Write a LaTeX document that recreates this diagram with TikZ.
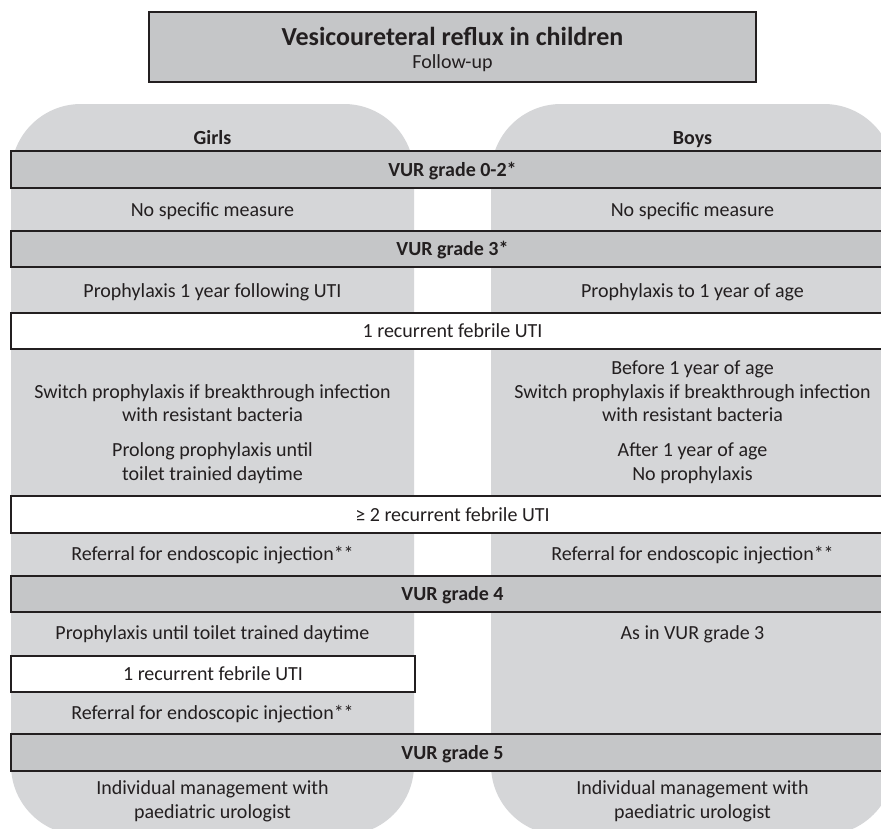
\documentclass[tikz,border=0pt]{standalone}
\usepackage{fontspec}
\setmainfont{Carlito}
\definecolor{ink}{RGB}{35,31,32}
\definecolor{panel}{RGB}{213,214,216}
\definecolor{barfill}{RGB}{197,198,200}
\begin{document}
\begin{tikzpicture}[x=1pt,y=-1pt,
  txt/.style={anchor=base, inner sep=0pt, text=ink, font=\fontsize{20}{24}\selectfont},
  btxt/.style={anchor=base, inner sep=0pt, text=ink, font=\fontsize{20}{24}\selectfont\bfseries},
  rowbox/.style={draw=ink, line width=1.8pt, inner sep=0pt, text=ink,
    text height=17pt, text depth=4pt, minimum height=36.5pt,
    font=\fontsize{20}{24}\selectfont},
  gradebar/.style={rowbox, fill=barfill, font=\fontsize{20}{24}\selectfont\bfseries},
  whitebar/.style={rowbox, fill=white},
  panelshape/.style={fill=panel, rounded corners=70pt}]
\useasboundingbox (0,0) rectangle (881,828);
\clip (0,0) rectangle (881,828);
\fill[white] (0,0) rectangle (881,828);
% panels
\fill[panelshape] (11,104) rectangle (414,835);
\fill[panelshape] (491,104) rectangle (894,835);
% title
\node[draw=ink, line width=1.5pt, fill=barfill, minimum width=607pt, minimum height=70pt, inner sep=0pt] (titlebox) at (452.5,47) {};
\node[btxt, font=\fontsize{26}{30}\selectfont\bfseries] (title) at (452.5,45) {Vesicoureteral reflux in children};
\node[txt] (followup) at (452.5,68.5) {Follow-up};
% headers
\node[btxt] (girls) at (212.5,144) {Girls};
\node[btxt] (boys) at (692.5,144) {Boys};
% grade 0-2
\node[gradebar, minimum width=883pt] (bar02) at (452.5,169.5) {VUR grade 0-2*};
\node[txt] (g02) at (212.5,216) {No specific measure};
\node[txt] (b02) at (692.5,216) {No specific measure};
% grade 3
\node[gradebar, minimum width=883pt] (bar3) at (452.5,249) {VUR grade 3*};
\node[txt] (g3a) at (212.5,297) {Prophylaxis 1 year following UTI};
\node[txt] (b3a) at (692.5,297) {Prophylaxis to 1 year of age};
\node[whitebar, minimum width=883pt] (uti1) at (452.5,331) {1 recurrent febrile UTI};
\node[txt] (g3b) at (212.5,398) {Switch prophylaxis if breakthrough infection};
\node[txt] (g3c) at (212.5,421.5) {with resistant bacteria};
\node[txt] (g3d) at (212.5,456) {Prolong prophylaxis until};
\node[txt] (g3e) at (212.5,480) {toilet trainied daytime};
\node[txt] (b3b) at (692.5,374) {Before 1 year of age};
\node[txt] (b3c) at (692.5,398) {Switch prophylaxis if breakthrough infection};
\node[txt] (b3d) at (692.5,421.5) {with resistant bacteria};
\node[txt] (b3e) at (692.5,456) {After 1 year of age};
\node[txt] (b3f) at (692.5,480) {No prophylaxis};
\node[whitebar, minimum width=883pt] (uti2) at (452.5,514.5) {≥ 2 recurrent febrile UTI};
\node[txt] (g3f) at (212.5,560) {Referral for endoscopic injection**};
\node[txt] (b3g) at (692.5,560) {Referral for endoscopic injection**};
% grade 4
\node[gradebar, minimum width=883pt] (bar4) at (452.5,594) {VUR grade 4};
\node[txt] (g4a) at (212.5,639) {Prophylaxis until toilet trained daytime};
\node[txt] (b4a) at (692.5,639) {As in VUR grade 3};
\node[whitebar, minimum width=404pt] (uti3) at (213,674) {1 recurrent febrile UTI};
\node[txt] (g4b) at (212.5,719) {Referral for endoscopic injection**};
% grade 5
\node[gradebar, minimum width=883pt] (bar5) at (452.5,752.5) {VUR grade 5};
\node[txt] (g5a) at (212.5,794) {Individual management with};
\node[txt] (g5b) at (212.5,818.5) {paediatric urologist};
\node[txt] (b5a) at (692.5,794) {Individual management with};
\node[txt] (b5b) at (692.5,818.5) {paediatric urologist};
\end{tikzpicture}
\end{document}
